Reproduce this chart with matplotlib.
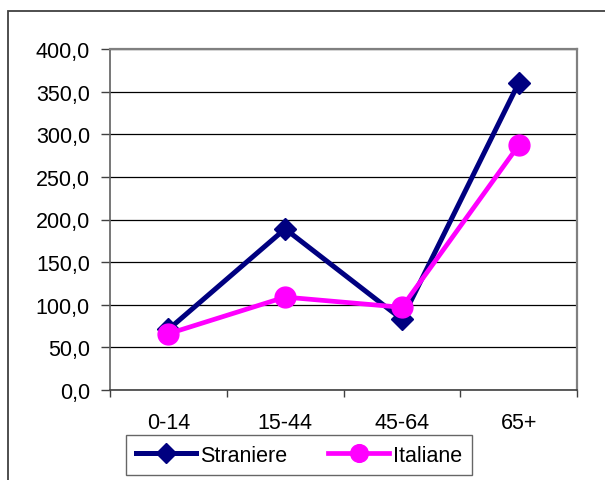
import matplotlib
matplotlib.use("Agg")
import matplotlib.pyplot as plt
from matplotlib.patches import Rectangle
from matplotlib.ticker import FixedLocator, FuncFormatter

plt.rcParams['font.family'] = ['Liberation Sans', 'DejaVu Sans']

categories = ["0-14", "15-44", "45-64", "65+"]
straniere = [71.0, 189.0, 83.0, 360.0]
italiane = [66.0, 109.0, 97.0, 287.0]
y_ticks = [0, 50, 100, 150, 200, 250, 300, 350, 400]

fig = plt.figure(figsize=(6.05, 4.81), dpi=100)
ax = fig.add_axes([110 / 605, 1 - 391 / 481, 467 / 605, 341 / 481])

# outer chart frame (cut off at right and bottom in the original)
fig.patches.append(Rectangle((8 / 605, -0.2), 1.2, 1.2 - 12 / 481,
                             transform=fig.transFigure, fill=False,
                             edgecolor="#404040", linewidth=1.3))

x = list(range(len(categories)))
ax.plot(x, straniere, color="#000080", linewidth=3.6, marker="D",
        markersize=11.5, label="Straniere", zorder=3)
ax.plot(x, italiane, color="#FF00FF", linewidth=3.4, marker="o",
        markersize=15, label="Italiane", zorder=4)

ax.set_xlim(-0.5, len(categories) - 0.5)
ax.set_ylim(0, 400)

ax.yaxis.set_major_locator(FixedLocator(y_ticks))
ax.yaxis.set_major_formatter(FuncFormatter(lambda v, p: f"{v:.1f}".replace(".", ",")))
ax.tick_params(axis="y", direction="out", length=6.5, width=1, pad=8,
               labelsize=15.5, color="#404040")
ax.yaxis.grid(True, color="black", linewidth=0.9)

ax.xaxis.set_major_locator(FixedLocator([i - 0.5 for i in range(len(categories) + 1)]))
ax.xaxis.set_major_formatter(FuncFormatter(lambda v, p: ""))
ax.xaxis.set_minor_locator(FixedLocator(x))
ax.set_xticklabels(categories, minor=True)
ax.tick_params(axis="x", which="major", direction="out", length=5, width=1,
               color="#404040")
ax.tick_params(axis="x", which="minor", length=0, pad=16, labelsize=15.5)

for side in ["top", "right"]:
    ax.spines[side].set_color("#808080")
    ax.spines[side].set_linewidth(1.6)
ax.spines["left"].set_color("#606060")
ax.spines["left"].set_linewidth(1.2)
ax.spines["bottom"].set_color("#404040")
ax.spines["bottom"].set_linewidth(1.2)

leg = fig.legend(loc="center", bbox_to_anchor=(299 / 605, 1 - 456 / 481),
                 ncol=2, fontsize=15.5, frameon=True, fancybox=False,
                 handlelength=2.8, handletextpad=0.2, columnspacing=1.9,
                 borderpad=0.45, markerscale=0.85)
leg.get_frame().set_edgecolor("#404040")
leg.get_frame().set_linewidth(1.0)

fig.savefig("out.png", dpi=100)
